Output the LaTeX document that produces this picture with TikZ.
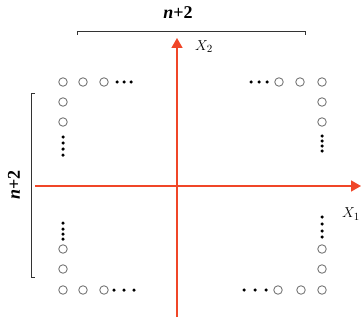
\documentclass[tikz,border=0pt]{standalone}
\usepackage{fontspec}
\setmainfont{Liberation Serif}
\usetikzlibrary{arrows.meta}
\definecolor{axisred}{RGB}{240,70,40}
\definecolor{ringgray}{RGB}{120,120,120}
\tikzset{
  ring/.style={circle,draw=ringgray,line width=0.9pt,minimum size=8.5pt,inner sep=0pt},
  dotc/.style={circle,fill=black,minimum size=3.5pt,inner sep=0pt},
  axis/.style={draw=axisred,line width=1.6pt,-{Triangle[length=10pt,width=11pt]}},
  brace/.style={draw=black!80,line width=0.9pt},
  lbl/.style={inner sep=0pt,font=\fontsize{18}{18}\selectfont\bfseries},
  axlbl/.style={inner sep=0pt,font=\fontsize{15}{15}\selectfont}
}
\begin{document}
\begin{tikzpicture}[x=1pt,y=-1pt]
\useasboundingbox (0,0) rectangle (363,326);
% axes
\coordinate (xs) at (35,186);
\coordinate (xe) at (361,186);
\coordinate (ys) at (177,317);
\coordinate (ye) at (177,38);
\draw[axis] (xs) -- (xe);
\draw[axis] (ys) -- (ye);
\node[axlbl] (x1) at (351,214) {$X_1$};
\node[axlbl] (x2) at (204,47) {$X_2$};
% top bracket
\coordinate (tb1) at (77,35);
\coordinate (tb2) at (77,31.5);
\coordinate (tb3) at (305,31.5);
\coordinate (tb4) at (305,35);
\draw[brace] (tb1) -- (tb2) -- (tb3) -- (tb4);
\node[lbl] (tl) at (178,13) {\textit{n}+2};
% left bracket
\coordinate (lb1) at (35,93);
\coordinate (lb2) at (31.5,93);
\coordinate (lb3) at (31.5,277);
\coordinate (lb4) at (35,277);
\draw[brace] (lb1) -- (lb2) -- (lb3) -- (lb4);
\node[lbl,rotate=90] (ll) at (14,185) {\textit{n}+2};
% top-left
\node[ring] (a1) at (63,82) {};
\node[ring] (a2) at (83,82) {};
\node[ring] (a3) at (104,82) {};
\node[dotc] (ad1) at (117,82) {};
\node[dotc] (ad2) at (124,82) {};
\node[dotc] (ad3) at (131,82) {};
\node[ring] (a4) at (63,102) {};
\node[ring] (a5) at (63,122) {};
\node[dotc] (ad4) at (63,137) {};
\node[dotc] (ad5) at (63,143) {};
\node[dotc] (ad6) at (63,149) {};
\node[dotc] (ad7) at (63,155) {};
% top-right
\node[ring] (b1) at (322,82) {};
\node[ring] (b2) at (300,82) {};
\node[ring] (b3) at (279,82) {};
\node[dotc] (bd1) at (267,82) {};
\node[dotc] (bd2) at (259,82) {};
\node[dotc] (bd3) at (251,82) {};
\node[ring] (b4) at (322,102) {};
\node[ring] (b5) at (322,122) {};
\node[dotc] (bd4) at (322,136) {};
\node[dotc] (bd5) at (322,141) {};
\node[dotc] (bd6) at (322,146) {};
\node[dotc] (bd7) at (322,151) {};
% bottom-left
\node[ring] (c1) at (63,290) {};
\node[ring] (c2) at (83,290) {};
\node[ring] (c3) at (104,290) {};
\node[dotc] (cd1) at (114,290) {};
\node[dotc] (cd2) at (124,290) {};
\node[dotc] (cd3) at (134,290) {};
\node[ring] (c4) at (63,269) {};
\node[ring] (c5) at (63,249) {};
\node[dotc] (cd4) at (63,239) {};
\node[dotc] (cd5) at (63,234) {};
\node[dotc] (cd6) at (63,229) {};
\node[dotc] (cd7) at (63,223) {};
% bottom-right
\node[ring] (d1) at (322,290) {};
\node[ring] (d2) at (301,290) {};
\node[ring] (d3) at (278,290) {};
\node[dotc] (dd1) at (266,290) {};
\node[dotc] (dd2) at (255,290) {};
\node[dotc] (dd3) at (244,290) {};
\node[ring] (d4) at (322,269) {};
\node[ring] (d5) at (322,249) {};
\node[dotc] (dd4) at (322,237) {};
\node[dotc] (dd5) at (322,231) {};
\node[dotc] (dd6) at (322,224) {};
\node[dotc] (dd7) at (322,217) {};
\end{tikzpicture}
\end{document}
